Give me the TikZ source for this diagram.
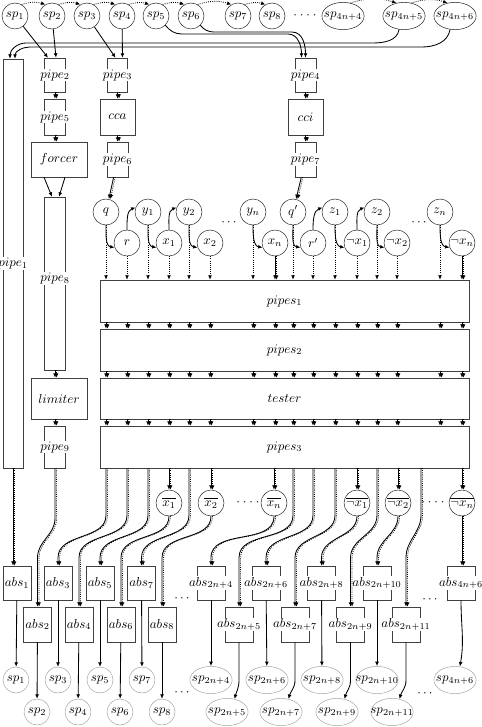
\documentclass[tikz,border=0pt]{standalone}
\usepackage{tikz}
\usetikzlibrary{arrows.meta,shapes.geometric}

\newcommand\pairline[1]{%
  \draw[->] #1;
  \draw[->,densely dotted,transform canvas={xshift=1.2pt}] #1;}
\newcommand\fourdots{${\cdot}\mkern4mu{\cdot}\mkern4mu{\cdot}\mkern4mu{\cdot}$}

\begin{document}
\begin{tikzpicture}[x=0.77pt,y=0.77pt,
  >={Latex[length=3.4pt,width=3pt]},line width=0.65pt,
  sz/.style 2 args={minimum width=#1*0.77pt,minimum height=#2*0.77pt},
  bx/.style={draw=black!75,line width=0.4pt,inner sep=0pt},
  lbl/.style={fill=white,inner sep=0.6pt},
  nd/.style={circle,draw=black!85,line width=0.4pt,minimum size=20pt,inner sep=0pt},
  ov/.style={ellipse,draw=black!85,line width=0.4pt,minimum width=32.5pt,minimum height=21pt,inner sep=0pt},
  spo/.style={nd,draw=black!35},
  ovo/.style={ov,draw=black!35}]
\useasboundingbox (0,0) rectangle (481,-727);

% input spans
\node[nd] (sp1) at (15,-16) {$sp_1$};
\node[nd] (sp2) at (52,-16) {$sp_2$};
\node[nd] (sp3) at (87,-16) {$sp_3$};
\node[nd] (sp4) at (122,-16) {$sp_4$};
\node[nd] (sp5) at (156,-16) {$sp_5$};
\node[nd] (sp6) at (191,-16) {$sp_6$};
\node[nd] (sp7) at (238,-16) {$sp_7$};
\node[nd] (sp8) at (272,-16) {$sp_8$};
\node (dtop) at (305,-16) {\fourdots};
\node[ov,label=center:{$sp_{4n+4}$}] (sp4n4) at (343,-16) {};
\node[ov,label=center:{$sp_{4n+5}$}] (sp4n5) at (404,-16) {};
\node[ov,label=center:{$sp_{4n+6}$}] (sp4n6) at (455,-16) {};
\foreach \a/\b in {sp1/sp2,sp2/sp3,sp3/sp4,sp4/sp5,sp5/sp6,sp6/sp7,sp7/sp8,sp4n4/sp4n5,sp4n5/sp4n6}
  \draw[->,densely dotted] (\a.60) to[bend left=18] (\b.120);

% pipes and boxes
\node[bx,sz={20}{409},label={[lbl]center:$pipe_1$}] (pipe1) at (13,-263.5) {};
\node[bx,sz={21}{34},label={[lbl]center:$pipe_2$}] (pipe2) at (55,-75) {};
\node[bx,sz={21}{36},label={[lbl]center:$pipe_5$}] (pipe5) at (55,-117) {};
\node[bx,sz={56}{35}] (forcer) at (59,-159.5) {$forcer$};
\node[bx,sz={21}{173},label={[lbl,yshift=4pt]center:$pipe_8$}] (pipe8) at (55,-283.5) {};
\node[bx,sz={56}{41}] (limiter) at (59,-398.5) {$limiter$};
\node[bx,sz={21}{42},label={[lbl]center:$pipe_9$}] (pipe9) at (55,-447) {};
\node[bx,sz={20}{34},label={[lbl]center:$pipe_3$}] (pipe3) at (117.5,-75) {};
\node[bx,sz={35}{36}] (cca) at (117.5,-117) {$cca$};
\node[bx,sz={21}{35},label={[lbl]center:$pipe_6$}] (pipe6) at (117.5,-159.5) {};
\node[bx,sz={21}{34},label={[lbl]center:$pipe_4$}] (pipe4) at (305.5,-75) {};
\node[bx,sz={35}{36}] (cci) at (305.5,-117) {$cci$};
\node[bx,sz={21}{35},label={[lbl]center:$pipe_7$}] (pipe7) at (305.5,-159.5) {};

\draw[->] (sp1) -- ([shift={(-7,0)}]pipe2.north);
\draw[->] (sp2) -- ([shift={(1,0)}]pipe2.north);
\draw[->] (sp3) -- ([shift={(-2,0)}]pipe3.north);
\draw[->] (sp4) -- ([shift={(5,0)}]pipe3.north);
\draw[->] (sp5.-45) to[out=-50,in=180] (182,-34) -- (288,-34) to[out=0,in=90] ([shift={(-4,0)}]pipe4.north);
\draw[->] (sp6.-45) to[out=-50,in=180] (214,-32) -- (292,-32) to[out=0,in=90] (pipe4.north);
\draw[->] (sp4n5.-110) to[out=-100,in=0] (372,-43) -- (26,-43) to[out=180,in=90] ([shift={(-3,0)}]pipe1.north);
\draw[->] (sp4n6.-110) to[out=-100,in=0] (422,-47) -- (30,-47) to[out=180,in=90] ([shift={(2,0)}]pipe1.north);

\pairline{(pipe2) -- (pipe5)}
\pairline{(pipe5.south) -- (pipe5.south |- forcer.north)}
\draw[->] ([shift={(-15,0)}]forcer.south) -- ([shift={(-3,0)}]pipe8.north);
\draw[->] ([shift={(6,0)}]forcer.south) -- ([shift={(4,0)}]pipe8.north);
\pairline{(pipe8.south) -- (pipe8.south |- limiter.north)}
\pairline{(pipe8.south |- limiter.south) -- (pipe9.north)}
\pairline{(pipe3) -- (cca)}
\pairline{(cca) -- (pipe6)}
\pairline{(pipe4) -- (cci)}
\pairline{(cci) -- (pipe7)}

% literals
\node[nd] (q) at (106,-212) {$q$};
\node[nd] (r) at (127,-243) {$r$};
\node[nd] (y1) at (148,-212) {$y_1$};
\node[nd] (x1) at (169,-243) {$x_1$};
\node[nd] (y2) at (189,-212) {$y_2$};
\node[nd] (x2) at (210,-243) {$x_2$};
\node (dmid1) at (229,-223) {$\cdots$};
\node[nd] (yn) at (253,-212) {$y_n$};
\node[nd] (xn) at (275,-243) {$x_n$};
\node[nd] (qq) at (293,-212) {$q'$};
\node[nd] (rr) at (313,-243) {$r'$};
\node[nd] (z1) at (335,-212) {$z_1$};
\node[nd] (nx1) at (357,-243) {$\neg x_1$};
\node[nd] (z2) at (377,-212) {$z_2$};
\node[nd] (nx2) at (397,-243) {$\neg x_2$};
\node (dmid2) at (419,-223) {$\cdots$};
\node[nd] (zn) at (440,-212) {$z_n$};
\node[nd] (nxn) at (462,-243) {$\neg x_n$};

\pairline{(pipe6) -- (q)}
\pairline{(pipe7) -- (qq)}
\foreach \a/\b in {q/r,y1/x1,y2/x2,yn/xn,qq/rr,z1/nx1,z2/nx2,zn/nxn}
  \draw[->] (\a.south) to[out=-90,in=170] (\b.200);
\foreach \a/\b in {r/y1,x1/y2,rr/z1,nx1/z2}
  \draw[->] (\a.north) to[out=90,in=200] (\b.160);

% wide boxes
\node[bx,sz={369}{42}] (pipes1) at (284.5,-301) {$pipes_1$};
\node[bx,sz={369}{42}] (pipes2) at (284.5,-350) {$pipes_2$};
\node[bx,sz={369}{41}] (tester) at (284.5,-398.5) {$tester$};
\node[bx,sz={369}{42}] (pipes3) at (284.5,-447) {$pipes_3$};

\foreach \v in {q,r,y1,x1,y2,x2,yn,qq,rr,z1,nx1,z2,nx2,zn}
  \draw[->,densely dotted] (\v) -- (\v |- pipes1.north);
\foreach \v in {xn,nxn}
  {\pairline{(\v) -- (\v |- pipes1.north)}}
\foreach \a/\b in {pipes1/pipes2,pipes2/tester,tester/pipes3}
  \foreach \v in {q,r,y1,x1,y2,x2,yn,xn,qq,rr,z1,nx1,z2,nx2,zn,nxn}
    {\pairline{(\v |- \a.south) -- (\v |- \b.north)}}

% negated copies
\node[nd] (xb1) at (169,-503) {$\overline{x_1}$};
\node[nd] (xb2) at (211,-503) {$\overline{x_2}$};
\node (dneg1) at (248,-503) {\fourdots};
\node[nd] (xbn) at (274,-503) {$\overline{x_n}$};
\node[nd] (nxb1) at (357,-503) {$\overline{\neg x_1}$};
\node[nd] (nxb2) at (398,-503) {$\overline{\neg x_2}$};
\node (dneg2) at (433,-503) {\fourdots};
\node[nd] (nxbn) at (462,-503) {$\overline{\neg x_n}$};
\coordinate (zo) at (421,-468);

% abstraction boxes
\foreach \nm/\x/\lab in {1/17/1,3/58/3,5/100/5,7/141.5/7,2n4/211/{2n+4},2n6/266/{2n+6},2n8/321.5/{2n+8},2n10/377/{2n+10},4n6/461/{4n+6}}
  \node[bx,sz={28}{34},label={[lbl]center:$abs_{\lab}$}] (abs\nm) at (\x,-583) {};
\foreach \nm/\x/\lab in {2/37.5/2,4/79/4,6/121/6,8/162/8,2n5/239/{2n+5},2n7/295/{2n+7},2n9/350.5/{2n+9},2n11/406/{2n+11}}
  \node[bx,sz={28}{35},label={[lbl]center:$abs_{\lab}$}] (abs\nm) at (\x,-624.5) {};
\node (dabs1) at (182,-599) {$\cdots$};
\node (dabs2) at (430,-600) {$\cdots$};

\foreach \v in {xb1,xb2,xbn,nxb1,nxb2,nxbn}
  {\pairline{(\v |- pipes3.south) -- (\v)}}
\pairline{(pipe1.south) -- (pipe1.south |- abs1.north)}
\pairline{(pipe9.south) -- ++(0,-50) to[out=-90,in=90] ([shift={(0,49)}]abs2.north) -- (abs2.north)}
\foreach \s/\d/\h in {q/abs3/8,r/abs4/49,y1/abs5/8,y2/abs7/8,qq/abs2n5/49,rr/abs2n6/8,z1/abs2n7/49,z2/abs2n9/49}
  {\pairline{(\s |- pipes3.south) -- ++(0,-47) to[out=-90,in=90] ([shift={(0,\h)}]\d.north) -- (\d.north)}}
\pairline{(zo) -- ++(0,-47) to[out=-90,in=90] ([shift={(0,49)}]abs2n11.north) -- (abs2n11.north)}
\foreach \s/\d/\h in {xb1/abs6/49,xb2/abs8/49,xbn/abs2n4/8,nxb1/abs2n8/8,nxb2/abs2n10/8}
  {\pairline{(\s.south) to[out=-90,in=90] ([shift={(0,\h)}]\d.north) -- (\d.north)}}
\pairline{(nxbn) -- (nxbn |- abs4n6.north)}

% output spans
\node[spo] (o1) at (16,-680) {$sp_1$};
\node[spo] (o3) at (58,-680) {$sp_3$};
\node[spo] (o5) at (100,-680) {$sp_5$};
\node[spo] (o7) at (142,-680) {$sp_7$};
\node[ovo,label=center:{$sp_{2n+4}$}] (o2n4) at (211,-680) {};
\node[ovo,label=center:{$sp_{2n+6}$}] (o2n6) at (267,-680) {};
\node[ovo,label=center:{$sp_{2n+8}$}] (o2n8) at (322,-680) {};
\node[ovo,label=center:{$sp_{2n+10}$}] (o2n10) at (377,-680) {};
\node[ovo,label=center:{$sp_{4n+6}$}] (o4n6) at (455,-680) {};
\node[spo] (o2) at (37,-712) {$sp_2$};
\node[spo] (o4) at (78,-712) {$sp_4$};
\node[spo] (o6) at (120,-712) {$sp_6$};
\node[spo] (o8) at (162,-712) {$sp_8$};
\node[ovo,label=center:{$sp_{2n+5}$}] (o2n5) at (227,-712) {};
\node[ovo,label=center:{$sp_{2n+7}$}] (o2n7) at (281,-712) {};
\node[ovo,label=center:{$sp_{2n+9}$}] (o2n9) at (337,-712) {};
\node[ovo,label=center:{$sp_{2n+11}$}] (o2n11) at (392,-712) {};
\node (dsp1) at (182,-693) {$\cdots$};
\node (dsp2) at (425,-694) {$\cdots$};

\foreach \nm in {1,3,5,7,2,4,6,8,2n4,2n6,2n8,2n10}
  \draw[->] (abs\nm) -- (o\nm);
\foreach \nm in {2n5,2n7,2n9,2n11}
  \draw[->] (abs\nm.south) -- ++(0,-38) to[out=-90,in=75] (o\nm.60);
\draw[->] (abs4n6.south) to[out=-90,in=80] (o4n6.70);
\end{tikzpicture}
\end{document}
